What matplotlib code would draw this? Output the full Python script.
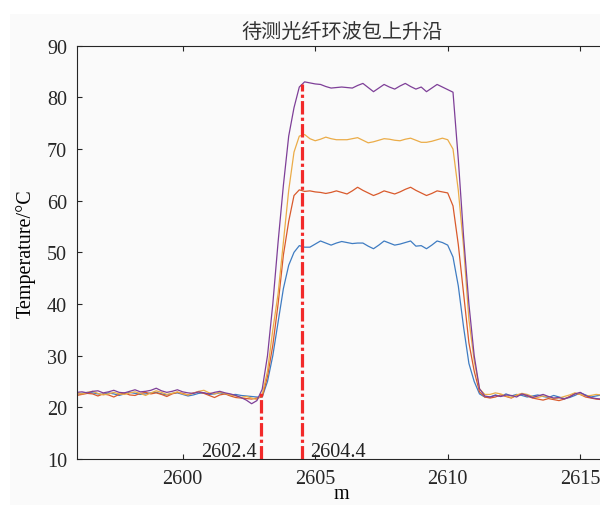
import numpy as np
import matplotlib.pyplot as plt
from matplotlib.patches import Rectangle

# distance along fibre (m), 0.2 m sampling
x = np.linspace(2596.0, 2616.0, 101)

# four temperature traces (degC)
blue = [22.6, 22.7, 22.9, 22.8, 22.6, 22.5, 22.8, 22.6, 22.3, 22.6, 22.9, 22.7, 22.5, 22.6, 22.8, 22.9, 22.6, 22.4,
        22.7, 22.8, 22.5, 22.2, 22.4, 22.7, 22.8, 22.5, 22.6, 22.8, 22.6, 22.4, 22.5, 22.3, 22.2, 22.1, 22.0,
        22.0, 25.0, 30.0, 36.5, 43.0, 47.5, 50.0, 51.3,
        51.0, 51.0, 51.6, 52.2, 51.8, 51.4, 51.8, 52.1, 51.9, 51.7, 51.8, 51.8, 51.2, 50.7, 51.4, 52.2, 51.8, 51.4,
        51.6, 51.9, 52.2, 51.2, 51.3, 50.7, 51.4, 52.2, 51.9, 51.4,
        49.1, 43.5, 35.5, 28.5, 25.0, 22.6, 22.0,
        22.0, 22.4, 22.1, 22.6, 22.2, 22.5, 22.3, 22.0, 22.2, 22.4, 22.1, 21.9, 22.3, 22.0, 21.7, 21.9, 22.3, 22.8,
        22.4, 22.0, 22.2, 22.4, 22.6]
red = [22.3, 22.5, 22.7, 22.6, 22.2, 22.6, 22.4, 22.0, 22.5, 22.8, 22.4, 22.3, 22.7, 22.9, 22.6, 22.8, 22.5, 22.1,
       22.6, 22.9, 22.7, 22.4, 22.8, 23.0, 22.7, 22.3, 21.9, 22.4, 22.6, 22.2, 21.9, 21.8, 21.7, 21.6, 21.8,
       22.0, 26.0, 32.0, 40.0, 49.5, 56.0, 61.0, 62.1,
       61.8, 61.9, 61.7, 61.6, 61.4, 61.6, 61.9, 61.6, 61.3, 61.9, 62.6, 62.0, 61.5, 61.0, 61.4, 61.9, 61.6, 61.3,
       61.7, 62.2, 62.6, 62.0, 61.5, 61.0, 61.4, 61.9, 61.7, 61.5,
       59.0, 51.5, 42.0, 32.5, 27.0, 23.0, 22.0,
       21.8, 22.0, 22.4, 22.1, 21.8, 22.3, 22.6, 22.2, 21.8, 21.6, 21.4, 21.7, 21.5, 21.3, 21.6, 22.1, 22.7, 22.5,
       22.0, 21.8, 21.6, 21.5, 21.6]
orange = [22.8, 22.6, 22.9, 23.1, 22.7, 22.4, 22.6, 22.9, 22.6, 22.5, 22.8, 23.0, 22.7, 22.3, 22.8, 23.2, 22.9, 22.5,
          22.7, 23.0, 22.6, 22.4, 22.7, 23.1, 23.3, 22.8, 22.6, 22.9, 22.7, 22.4, 22.2, 21.9, 22.1, 21.8, 21.5,
          22.5, 27.0, 35.0, 42.0, 52.0, 62.0, 69.4, 72.5,
          72.8, 72.0, 71.6, 71.9, 72.3, 72.0, 71.8, 71.8, 71.8, 72.0, 72.2, 71.7, 71.2, 71.4, 71.7, 72.0, 71.9, 71.7,
          71.6, 71.9, 72.1, 71.7, 71.3, 71.3, 71.5, 71.8, 72.1, 71.8,
          70.0, 62.0, 51.0, 37.0, 29.0, 23.6, 22.5,
          22.5, 22.8, 22.6, 22.2, 21.9, 22.4, 22.7, 22.5, 22.1, 21.9, 22.2, 22.0, 21.7, 21.8, 22.1, 22.4, 22.8, 22.5,
          22.2, 22.3, 22.5, 22.4, 22.3]
purple = [22.9, 23.0, 22.8, 23.1, 23.2, 22.8, 23.0, 23.3, 22.9, 22.8, 23.1, 23.4, 23.0, 23.1, 23.3, 23.7, 23.2, 22.9,
          23.1, 23.4, 23.0, 22.8, 22.7, 23.0, 22.8, 22.6, 22.9, 23.1, 22.8, 22.6, 22.3, 21.9, 21.4, 20.7, 21.3,
          23.5, 30.0, 40.0, 52.0, 63.0, 72.5, 78.0, 82.0,
          83.0, 82.8, 82.6, 82.5, 82.1, 81.8, 81.9, 82.0, 81.9, 81.8, 82.3, 82.7, 81.9, 81.1, 81.8, 82.5, 82.0, 81.6,
          82.2, 82.7, 82.1, 81.6, 82.0, 81.1, 81.8, 82.5, 82.0, 81.5,
          81.0, 68.0, 53.0, 40.0, 30.0, 23.6, 22.2,
          22.0, 22.3, 22.1, 22.4, 22.3, 22.0, 22.6, 22.3, 21.9, 22.2, 22.5, 22.1, 21.8, 21.9, 21.6, 22.0, 22.6, 22.9,
          22.3, 21.9, 21.7, 21.6, 21.5]

# marked positions of the rising edge
marker_x = [2602.95, 2604.5]
marker_labels = ['2602.4', '2604.4']

x_ticks = [2600, 2605, 2610, 2615]
y_ticks = [10, 20, 30, 40, 50, 60, 70, 80, 90]

plt.rcParams['font.family'] = ['Liberation Serif', 'DejaVu Serif']
plt.rcParams['font.size'] = 14.5

fig = plt.figure(figsize=(6.0, 5.06), dpi=100, facecolor='white')
fig.patches.append(Rectangle((10 / 600, 0), 1, 491 / 506, transform=fig.transFigure,
                             facecolor='#fafafa', edgecolor='none', zorder=-10))
ax = fig.add_axes([76.7 / 600, 46 / 506, 530 / 600, 413.3 / 506])
ax.set_facecolor('none')

for y, c in zip([blue, red, orange, purple], ['#3f7cc2', '#d95a2c', '#ebac48', '#7e3f98']):
    ax.plot(x, y, color=c, lw=0.9)

for xm, lab, side in zip(marker_x, marker_labels, [-1, 1]):
    top = np.interp(xm, x, purple)
    ax.plot([xm, xm], [10, top], color='#f22a2a', lw=2.3, dashes=(4.2, 1.0, 1.0, 1.0))
    off = -3 if side < 0 else 6
    ax.annotate(lab, xy=(xm, 10), xytext=(off, 2.2), textcoords='offset points',
                ha='right' if side < 0 else 'left', va='baseline', color='#222222')

ax.set_xlim(2596, 2616)
ax.set_ylim(10, 90)
ax.set_xticks(x_ticks)
ax.set_yticks(y_ticks)
ax.tick_params(direction='in', length=3.6, width=0.8, top=True, right=True, pad=7, colors='#262626')
for s in ax.spines.values():
    s.set_color('#262626')
    s.set_linewidth(0.8)

ax.set_xlabel('m', labelpad=-3)
ax.set_ylabel('Temperature/°C', labelpad=8)
ax.set_title('待测光纤环波包上升沿', fontsize=14.5, pad=6, color='#333333',
             family=['Noto Sans CJK SC', 'DejaVu Sans'])

fig.savefig('out.png', dpi=100)
